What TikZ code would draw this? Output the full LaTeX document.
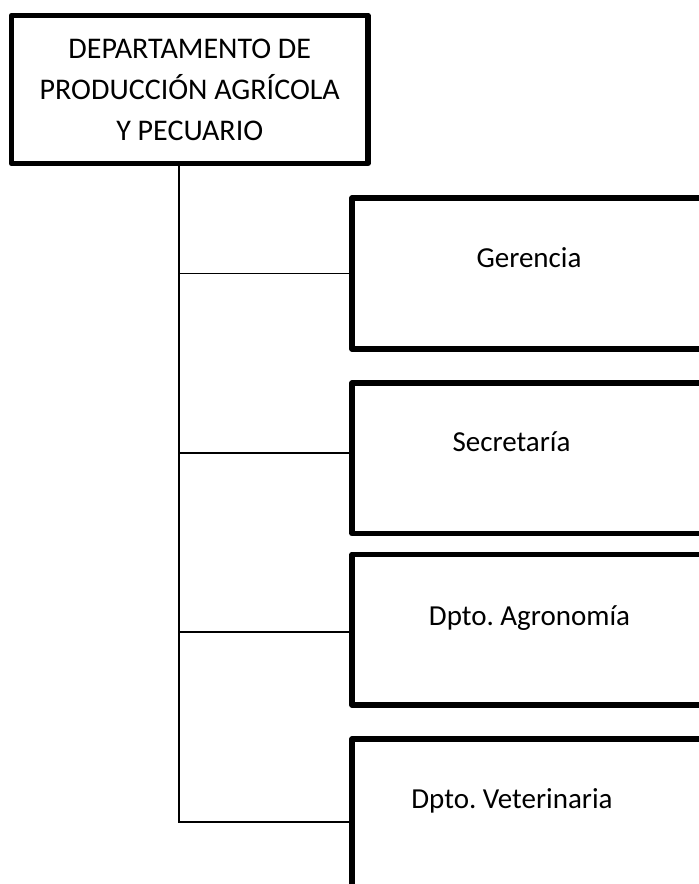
\documentclass[tikz,border=0pt]{standalone}
\usepackage{fontspec}
\setmainfont{Carlito}
\usetikzlibrary{positioning}
\frenchspacing

\tikzset{
  unit/.style={draw, line width=5.5pt, line join=round, outer sep=0pt, inner sep=0pt,
    anchor=north west, minimum width=400pt, minimum height=151pt},
  unitname/.style={font=\fontsize{29}{35}\selectfont, anchor=base},
  link/.style={line width=1.6pt}
}

\begin{document}
\begin{tikzpicture}[x=1pt,y=1pt]

	\useasboundingbox (0,0) rectangle (699,-884);
	\clip (0,0) rectangle (699,-884);

	% department
	\node[unit, minimum width=356.5pt, minimum height=148pt, align=center,
	  font=\fontsize{30}{41}\selectfont] (dept) at (11.5,-15.5)
	  {DEPARTAMENTO DE\\PRODUCCIÓN AGRÍCOLA\\Y PECUARIO};

	% units
	\node[unit, label={[unitname, xshift=-23pt, yshift=-69pt]north:Gerencia}] (ger) at (352,-198) {};
	\node[unit, minimum height=150.5pt, label={[unitname, xshift=-40.5pt, yshift=-68pt]north:Secretaría}] (sec) at (352,-383) {};
	\node[unit, minimum height=150.5pt, label={[unitname, xshift=-22.5pt, yshift=-70.5pt]north:Dpto. Agronomía}] (agro) at (352,-554.5) {};
	\node[unit, minimum height=166pt, label={[unitname, xshift=-40pt, yshift=-69pt]north:Dpto. Veterinaria}] (vet) at (352,-739) {};

	% links
	\coordinate (trunk) at ([xshift=-11pt]dept.south);
	\draw[link] (trunk) |- (ger.west);
	\draw[link] (trunk) |- ([yshift=5pt]sec.west);
	\draw[link] (trunk) |- ([yshift=-2pt]agro.west);
	\draw[link] (trunk) |- (vet.west);

\end{tikzpicture}
\end{document}
